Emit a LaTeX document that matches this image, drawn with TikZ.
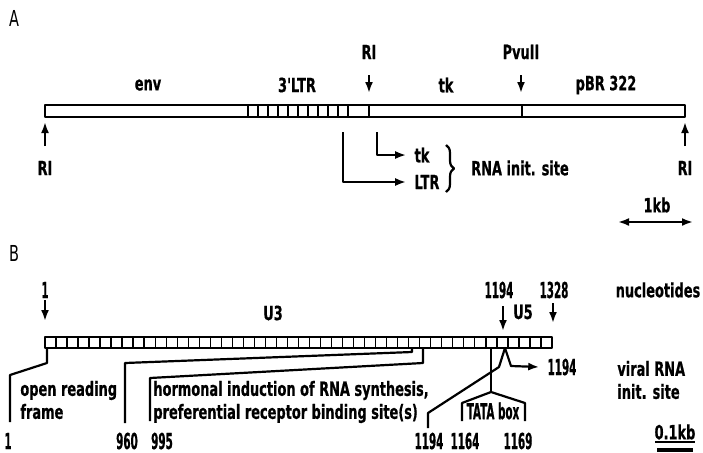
\documentclass[tikz,border=0pt]{standalone}
\usepackage{fontspec}
\newfontfamily\mapfont{DejaVu Sans}[FakeStretch=0.66,BoldFeatures={FakeBold=0.6}]
\newfontfamily\numfont{DejaVu Sans}[FakeStretch=0.47,BoldFeatures={FakeBold=0.6}]
\usepackage{tikz}
\usetikzlibrary{arrows.meta,calc,positioning,decorations.pathreplacing}

\begin{document}
\begin{tikzpicture}[x=0.5pt,y=-0.5pt,>={Latex[length=5.5pt,width=4pt]},line join=round,
  lbl/.style={font=\mapfont\bfseries\fontsize{9.8}{11.5}\selectfont,inner sep=0pt},
  num/.style={font=\numfont\bfseries\fontsize{11}{12}\selectfont,inner sep=0pt},
  panel/.style={font=\mapfont\fontsize{11}{13}\selectfont,inner sep=0pt},
  bar/.style={line width=1.1pt},
  cell/.style={line width=0.7pt},
  lead/.style={line width=1.1pt}]
\useasboundingbox (0,0) rectangle (703,452);
% ---------- A: plasmid map ----------
\node[panel] (pA) at (14,18) {A};
\draw[bar] (45,105) rectangle (685,117);
\foreach \x in {248,258,...,348} \draw[cell] (\x,105) -- (\x,117);
\draw[cell] (369,105) -- (369,117);
\draw[cell] (522,105) -- (522,117);
% region names
\node[lbl] (env) at (148,85) {env};
\node[lbl] (ltr3) at (297,85) {3'LTR};
\node[lbl] (tkA) at (446,85) {tk};
\node[lbl] (pbr) at (606,85) {pBR 322};
% cut sites
\node[lbl] (riM) at (369,52) {RI};
\node[lbl] (pvu) at (521,52) {PvuII};
\coordinate (riMa) at (369,75); \coordinate (riMb) at (369,93);
\coordinate (pvua) at (521,75); \coordinate (pvub) at (521,93);
\draw[->,lead] (riMa) -- (riMb);
\draw[->,lead] (pvua) -- (pvub);
\node[lbl] (riL) at (45,168) {RI};
\node[lbl] (riR) at (685,168) {RI};
\coordinate (riLa) at (45,146); \coordinate (riLb) at (45,122);
\coordinate (riRa) at (685,146); \coordinate (riRb) at (685,122);
\draw[->,lead] (riLa) -- (riLb);
\draw[->,lead] (riRa) -- (riRb);
% RNA start sites
\node[lbl] (tkS) at (422,155) {tk};
\node[lbl] (ltrS) at (427,182) {LTR};
\coordinate (tk0) at (377,132); \coordinate (ltr0) at (343,132);
\draw[->,lead] (tk0) |- ([xshift=-4pt]tkS.west);
\draw[->,lead] (ltr0) |- ([xshift=-4pt]ltrS.west);
\coordinate (brT) at (446,145); \coordinate (brB) at (446,192);
\draw[lead,decorate,decoration={brace,amplitude=4pt}] (brT) -- (brB);
\node[lbl] (init) at (520,168) {RNA init. site};
% scale
\node[lbl] (kb1) at (657,205) {1kb};
\coordinate (kbL) at (618,222); \coordinate (kbR) at (693,222);
\draw[<->,lead] (kbL) -- (kbR);
% ---------- B: LTR detail ----------
\node[panel] (pB) at (14,253) {B};
\draw[bar] (45,337) rectangle (552,348);
\foreach \i in {1,...,45} \draw[cell] ({45+\i*11.02},337) -- ++(0,11);
\node[num] (n1) at (45,290) {1};
\node[num] (n1194) at (499,290) {1194};
\node[num] (n1328) at (554,290) {1328};
\node[lbl] (nuc) at (658,290) {nucleotides};
\node[lbl] (u3) at (273,313) {U3};
\node[lbl] (u5) at (523,312) {U5};
\coordinate (n1a) at (45,300); \coordinate (n1b) at (45,321);
\coordinate (n1194a) at (503,306); \coordinate (n1194b) at (503,331);
\coordinate (n1328a) at (553,303); \coordinate (n1328b) at (553,323);
\draw[->,lead] (n1a) -- (n1b);
\draw[->,lead] (n1194a) -- (n1194b);
\draw[->,lead] (n1328a) -- (n1328b);
% open reading frame
\node[lbl,align=left,anchor=west] (orf) at (20,400) {open reading\\frame};
\node[num] (b1) at (8,441) {1};
\draw[lead] (47,348) -- (47,363) -- (10,375) -- (10,422);
% receptor binding
\node[lbl,align=left,anchor=west] (horm) at (153,402) {hormonal induction of RNA synthesis,\\preferential receptor binding site(s)};
\node[num] (b960) at (127,441) {960};
\node[num] (b995) at (162,441) {995};
\draw[lead] (412,348) -- (412,352) -- (125,363) -- (125,423);
\draw[lead] (423,348) -- (423,363) -- (150,378) -- (150,421);
% RNA start and TATA box
\node[num] (b1194) at (429,441) {1194};
\node[num] (r1194) at (562,367) {1194};
\draw[lead,->] (428,428) -- (428,413) -- (499,367) -- (505,348) -- (511,366) -- ([xshift=-4pt]r1194.west);
\node[num] (tata) at (493,411) {TATA box};
\node[num] (b1164) at (465,441) {1164};
\node[num] (b1169) at (518,441) {1169};
\draw[lead] (491,348) -- (491,392);
\draw[lead] (462,421) -- (462,403) -- (491,392) -- (525,403) -- (525,421);
\node[lbl,align=left,anchor=west] (vir) at (617,380) {viral RNA\\init. site};
% scale
\node[lbl] (kb01) at (675,432) {0.1kb};
\draw[lead] (655,442) -- (695,442);
\draw[line width=1.6pt] (657,450) -- (693,450);
\end{tikzpicture}
\end{document}
